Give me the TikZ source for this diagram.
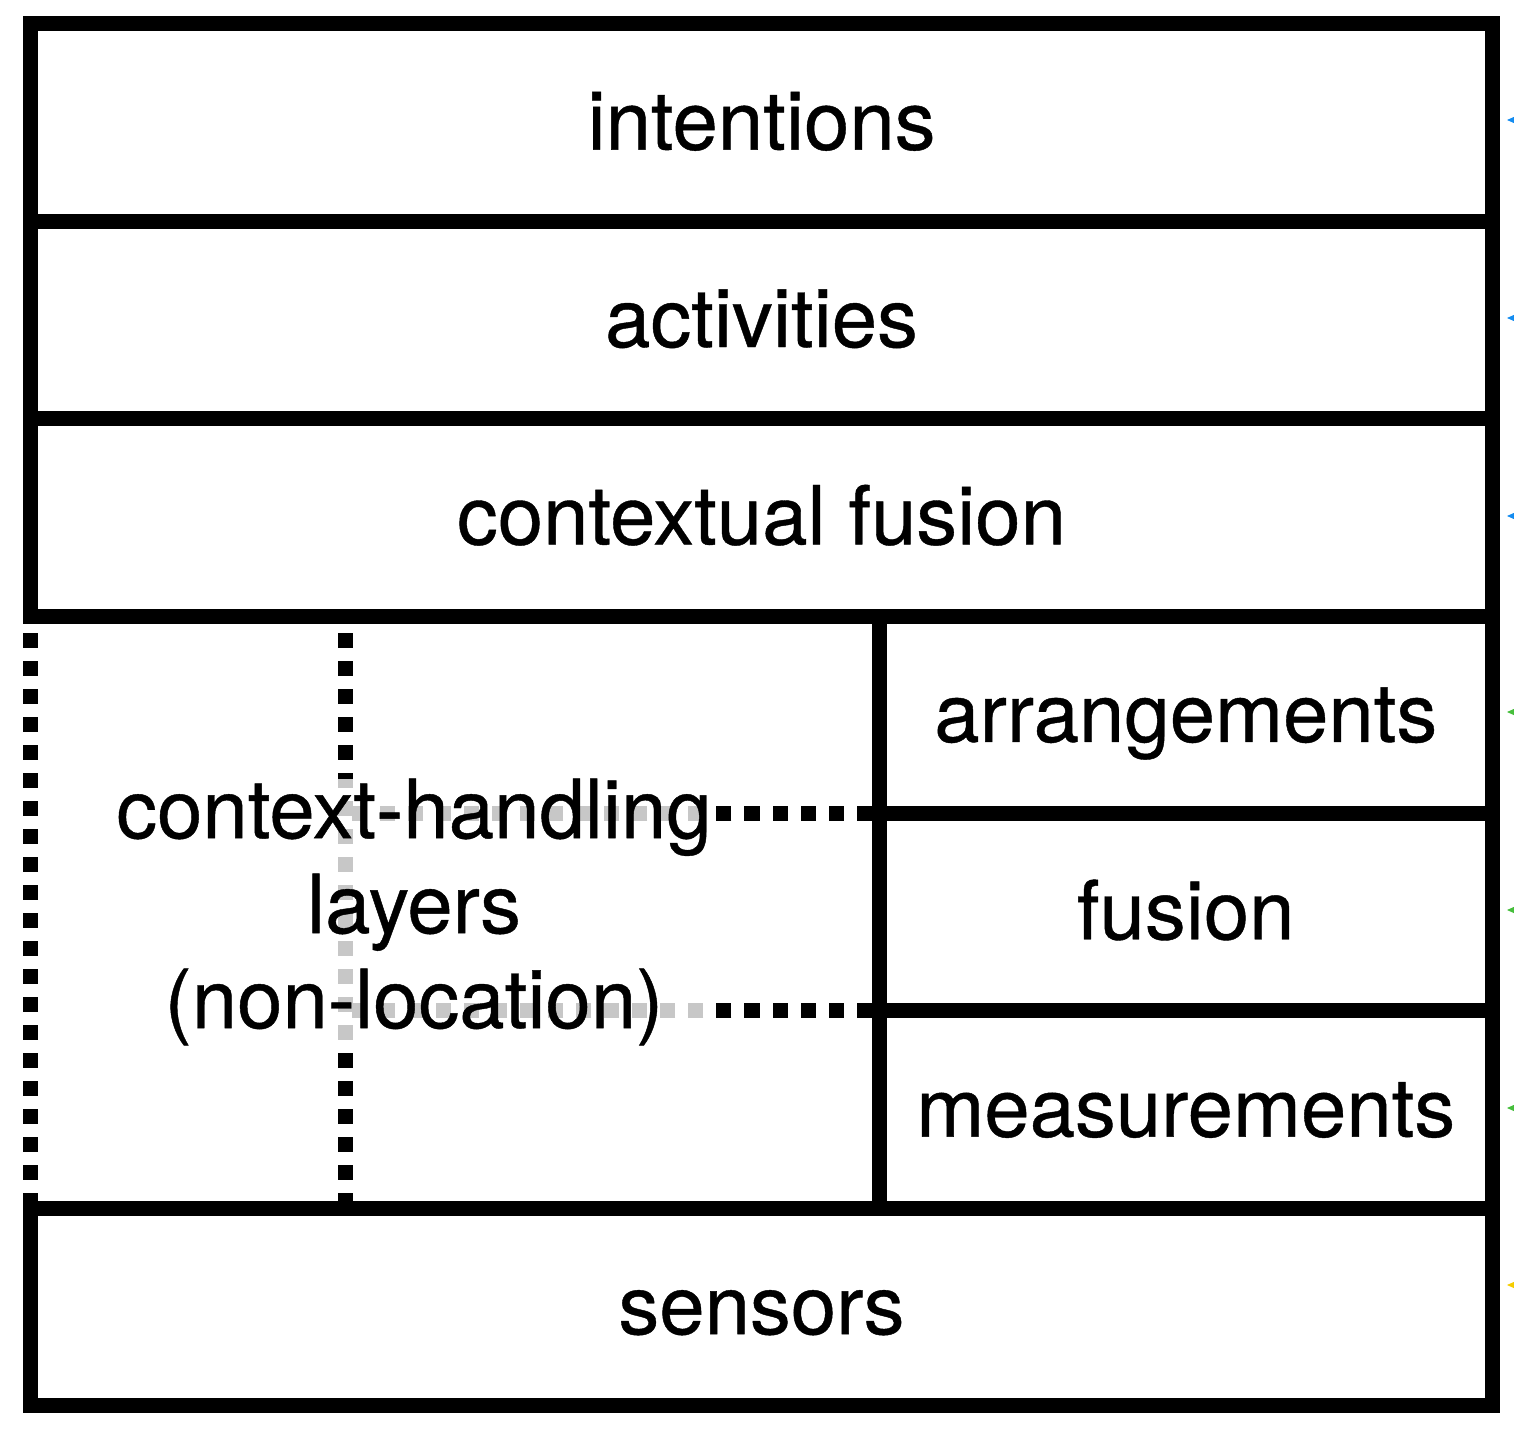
\documentclass[tikz,border=0pt]{standalone}
\usepackage{fontspec}
\setmainfont{TeX Gyre Heros}
\newfontfamily\layerfont{TeX Gyre Heros}[FakeBold=0.5]
\usetikzlibrary{positioning}
\definecolor{markblue}{RGB}{20,140,240}
\definecolor{markgreen}{RGB}{70,190,60}
\definecolor{markyellow}{RGB}{245,205,0}
\tikzset{
  layer/.style={rectangle, draw, line width=0.15cm, minimum width=14.61cm, minimum height=1.973cm, inner sep=0pt, outer sep=0pt, text height=0.6cm, text depth=0.06cm, text centered},
  sublayer/.style={layer, minimum width=6.13cm},
  dotline/.style={line width=0.15cm, dash pattern=on 0.15cm off 0.13cm},
  fadebox/.style={fill=white, fill opacity=0.78, text opacity=1, align=center, inner sep=0pt}
}

\begin{document}
\begin{tikzpicture}[x=0.01cm, y=-0.01cm, node distance=0pt, every node/.style={font=\layerfont\fontsize{23.2pt}{27pt}\selectfont}]
  \useasboundingbox (0,0) rectangle (1514,1430);

  % Nodes
  \node[layer] (intentions) at (761.5,122.6) {intentions};
  \node[layer, below=of intentions] (activities) {activities};
  \node[layer, below=of activities] (ctxfusion) {contextual fusion};
  \node[sublayer, anchor=north east] (arrangements) at (ctxfusion.south east) {arrangements};
  \node[sublayer, below=of arrangements] (fusion) {fusion};
  \node[sublayer, below=of fusion] (measurements) {measurements};
  \node[layer, anchor=north east] (sensors) at (measurements.south east) {sensors};

  % Dotted dividers
  \coordinate (leftup) at ([yshift=-0.17cm]ctxfusion.south west);
  \coordinate (leftdown) at (sensors.north west);
  \coordinate (midup) at ([xshift=3.15cm]leftup);
  \coordinate (middown) at ([xshift=3.15cm]leftdown);
  \draw[dotline] (leftup) -- (leftdown);
  \draw[dotline] (midup) -- (middown);
  \draw[dotline] ([xshift=-0.075cm]arrangements.south west) -- (midup |- arrangements.south west);
  \draw[dotline] ([xshift=-0.075cm]fusion.south west) -- (midup |- fusion.south west);

  % Label
  \node[fadebox] (handling) at (414,912) {context-handling\\layers\\(non-location)};

  % Marks at the right edge
  \foreach \y/\c in {120/markblue, 318/markblue, 516/markblue, 712/markgreen, 910/markgreen, 1108/markgreen, 1285/markyellow}
    \fill[\c] (1507,\y) -- (1516,\y-4) -- (1516,\y+4) -- cycle;
\end{tikzpicture}
\end{document}
